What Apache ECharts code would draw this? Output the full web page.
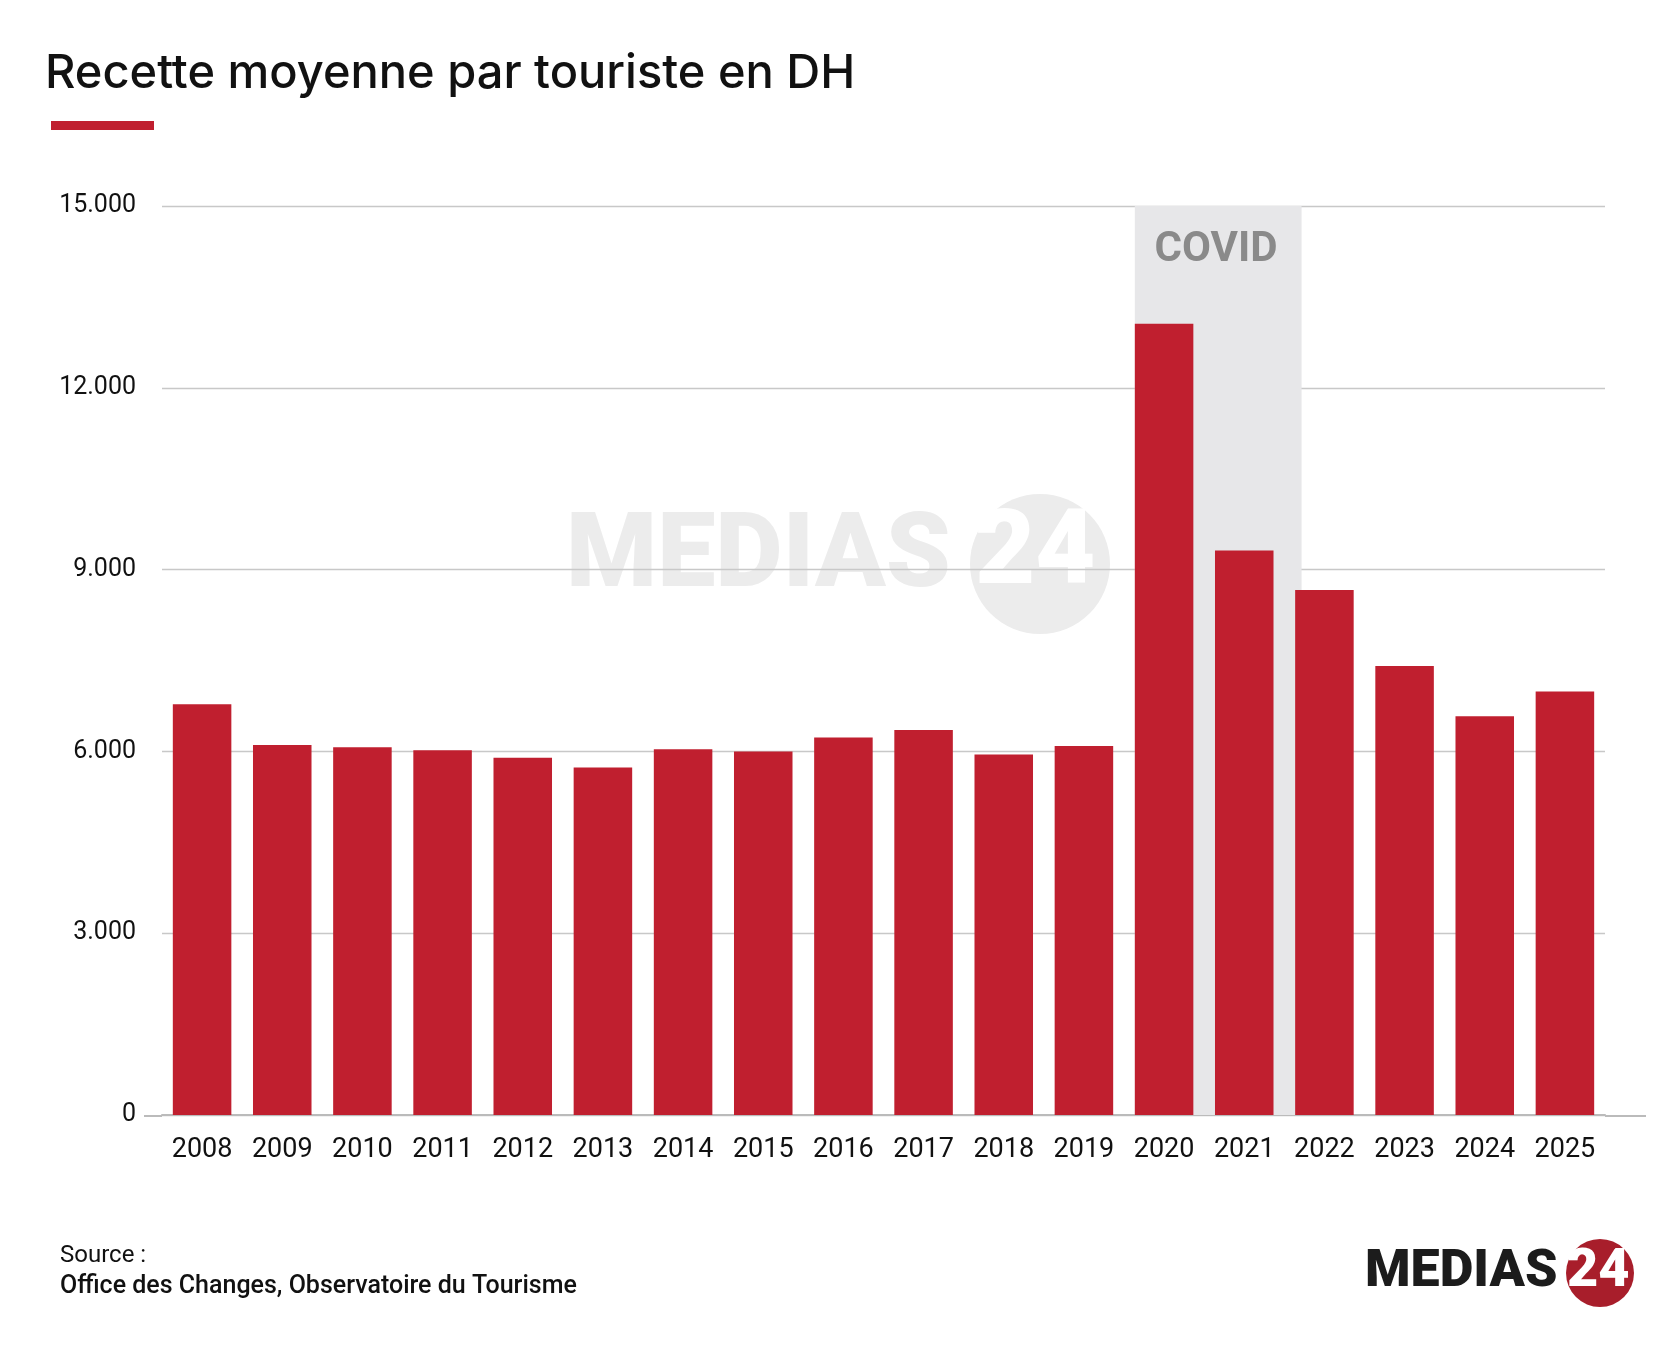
<!DOCTYPE html>
<html><head><meta charset="utf-8">
<script src="https://cdn.jsdelivr.net/npm/echarts@6/dist/echarts.min.js"></script>
<style>html,body{margin:0;background:#fff}#c{width:1667px;height:1362px}</style>
</head><body><div id="c"></div>
<script>
const years = ['2008','2009','2010','2011','2012','2013','2014','2015','2016','2017','2018','2019','2020','2021','2022','2023','2024','2025'];
const recette = [6780,6105,6070,6017,5894,5735,6035,6000,6229,6353,5947,6088,13058,9317,8664,7411,6582,6988];
const covidYears = ['2020','2021'];
const yTicks = [0,3000,6000,9000,12000,15000];
const covidBand = years.map(y => covidYears.includes(y) ? 15000 : null);

const chart = echarts.init(document.getElementById('c'));
chart.setOption({
  animation:false,
  grid:{left:162,right:62,top:206,bottom:247},
  graphic:[
    {type:'text',left:45,top:50,style:{text:'Recette moyenne par touriste en DH',font:'500 47px Inter, Lato, sans-serif',fill:'#111'}},
    {type:'rect',shape:{x:51,y:121,width:103,height:9},style:{fill:'#c01f2f'}},
    {type:'line',z:0,shape:{x1:144,y1:1116,x2:162,y2:1116},style:{stroke:'#bbb',lineWidth:2}},
    {type:'line',z:0,shape:{x1:1605,y1:1116,x2:1646,y2:1116},style:{stroke:'#bbb',lineWidth:2}},
    {type:'text',left:60,top:1244,style:{text:'Source :',font:'24px Roboto, sans-serif',fill:'#111'}},
    {type:'text',left:60,top:1274,style:{text:'Office des Changes, Observatoire du Tourisme',font:'500 25px Roboto, sans-serif',fill:'#111'}},
    {type:'text',left:566,top:508,z:-1,style:{text:'MEDIAS',font:'900 104px Roboto, sans-serif',fill:'#ececec'}},
    {type:'circle',z:-1,shape:{cx:1040,cy:564,r:70},style:{fill:'#ececec'}},
    {type:'text',left:975,top:505,z:-1,style:{text:'24',font:'900 104px Roboto, sans-serif',fill:'#fff'}},
    {type:'circle',shape:{cx:1600,cy:1273,r:34},style:{fill:'#a81e2b'}},
    {type:'text',left:1365,top:1247,style:{text:'MEDIAS',font:'900 52px Roboto, sans-serif',fill:'#1c1c1c'}},
    {type:'text',left:1567,top:1245,style:{text:'24',font:'900 54px Roboto, sans-serif',fill:'#fff'}}
  ],
  xAxis:{type:'category',data:years,
    axisLine:{lineStyle:{color:'#bbb',width:2}},axisTick:{show:false},
    axisLabel:{color:'#111',fontSize:27,fontFamily:'Roboto',margin:22}},
  yAxis:{type:'value',min:0,max:15000,interval:3000,
    axisLabel:{color:'#111',fontSize:25,fontFamily:'Roboto',margin:26,
      formatter:v=>yTicks.includes(v)?(v===0?'0':(v/1000).toFixed(3)):''},
    splitLine:{lineStyle:{color:'#c8c8c8',width:1.3}}},
  series:[
    {type:'bar',data:covidBand,barWidth:'108%',barGap:'-100%',z:1,silent:true,
      itemStyle:{color:'#e7e7e9'},
      label:{show:true,position:'insideTop',formatter:p=>p.name==='2020'?'COVID':'',
        color:'#8a8a8a',fontSize:42,fontWeight:'bold',fontFamily:'Roboto',offset:[38,18]}},
    {type:'bar',data:recette,barWidth:'73%',z:3,itemStyle:{color:'#c01f2f'}}
  ]
});
</script></body></html>
